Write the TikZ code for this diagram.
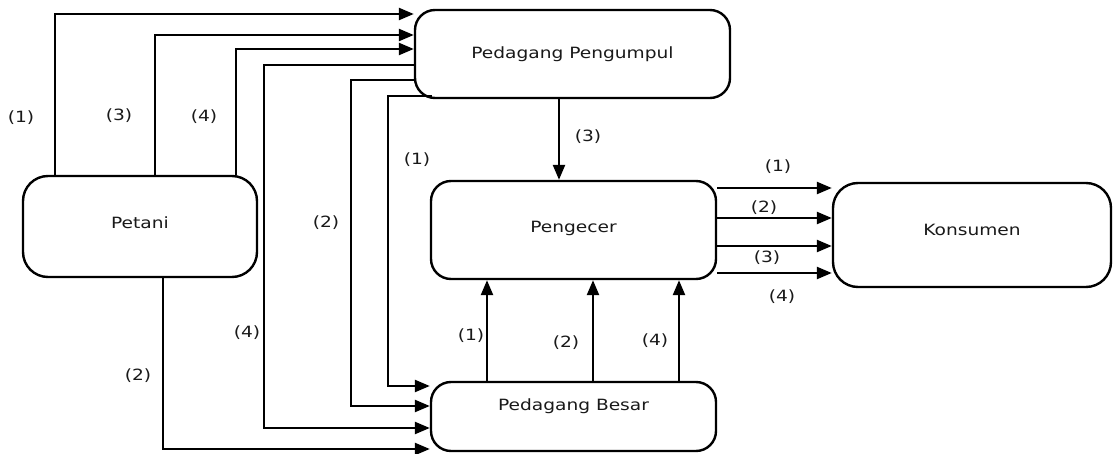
\documentclass[tikz,border=0pt]{standalone}
\usepackage{fontspec}
\setmainfont{DejaVu Sans}[FakeStretch=1.2]
\usetikzlibrary{arrows.meta,calc}
\begin{document}
\begin{tikzpicture}[x=1pt,y=-1pt,
  every node/.style={font=\fontsize{15.5}{18}\selectfont, text=black!90},
  box/.style={draw=black, line width=2.4pt, rounded corners=20pt, inner sep=0pt},
  arr/.style={draw=black, line width=2.4pt, -{Triangle[length=15pt,width=12pt]}},
  lab/.style={inner sep=0pt}]
\useasboundingbox (0,0) rectangle (1115,454);
% boxes
\node[box, minimum width=315pt, minimum height=88pt] (pp) at (572.5,54) {Pedagang Pengumpul};
\node[box, rounded corners=25pt, minimum width=234pt, minimum height=101pt, text depth=8pt] (pt) at (140,226.5) {Petani};
\node[box, minimum width=285pt, minimum height=98pt, text depth=6pt] (pg) at (573.5,230) {Pengecer};
\node[box, minimum width=285pt, minimum height=69pt, text depth=24pt] (pb) at (573.5,416.5) {Pedagang Besar};
\node[box, rounded corners=25pt, minimum width=278pt, minimum height=104pt, text depth=10pt] (ks) at (972,235) {Konsumen};
% Petani -> Pedagang Pengumpul
\draw[arr] (pt.north -| 55,0) |- (pp.west |- 0,14);
\draw[arr] (pt.north -| 155,0) |- (pp.west |- 0,35);
\draw[arr] (pt.north -| 236,0) |- (pp.west |- 0,49);
% Pedagang Pengumpul -> Pedagang Besar
\draw[arr] (pp.west |- 0,65) -| (264,428) -- (pb.west |- 0,428);
\draw[arr] (pp.west |- 0,80) -| (351,406) -- (pb.west |- 0,406);
\draw[arr] ($(pp.south west)+(18,-3)$) -| (388,386) -- (pb.west |- 0,386);
% Petani -> Pedagang Besar
\draw[arr] (pt.south -| 163,0) |- (pb.west |- 0,449);
% Pedagang Pengumpul -> Pengecer
\draw[arr] (pp.south -| 559,0) -- (pg.north -| 559,0);
% Pedagang Besar -> Pengecer
\draw[arr] (pb.north -| 487,0) -- (pg.south -| 487,0);
\draw[arr] (pb.north -| 593,0) -- (pg.south -| 593,0);
\draw[arr] (pb.north -| 679,0) -- (pg.south -| 679,0);
% Pengecer -> Konsumen
\draw[arr] (pg.east |- 0,188) -- (ks.west |- 0,188);
\draw[arr] (pg.east |- 0,218) -- (ks.west |- 0,218);
\draw[arr] (pg.east |- 0,246) -- (ks.west |- 0,246);
\draw[arr] (pg.east |- 0,273) -- (ks.west |- 0,273);
% labels
\node[lab] (a1) at (21,118) {(1)};
\node[lab] (a3) at (119,116) {(3)};
\node[lab] (a4) at (204,117) {(4)};
\node[lab] (b1) at (417,160) {(1)};
\node[lab] (b2) at (326,223) {(2)};
\node[lab] (b4) at (247,333) {(4)};
\node[lab] (c2) at (138,376) {(2)};
\node[lab] (d3) at (588,137) {(3)};
\node[lab] (e1) at (471,336) {(1)};
\node[lab] (e2) at (566,343) {(2)};
\node[lab] (e4) at (655,341) {(4)};
\node[lab] (f1) at (778,167) {(1)};
\node[lab] (f2) at (764,208) {(2)};
\node[lab] (f3) at (767,258) {(3)};
\node[lab] (f4) at (782,297) {(4)};
\end{tikzpicture}
\end{document}
